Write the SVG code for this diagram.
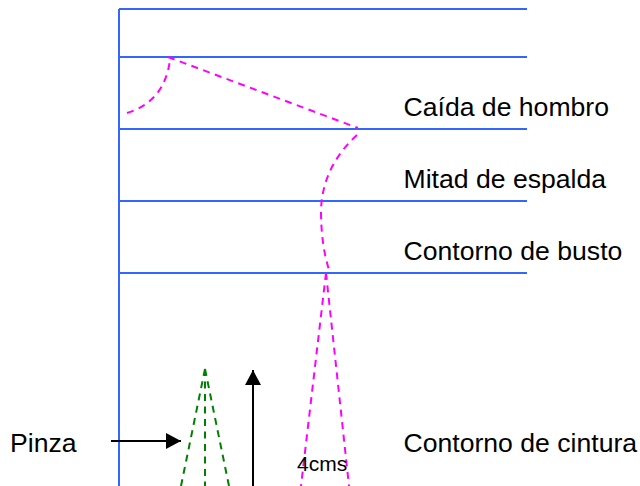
<svg xmlns="http://www.w3.org/2000/svg" width="640" height="486" viewBox="0 0 640 486">
<style>
.b{stroke:#3366ff;stroke-width:2;fill:none}
.m{stroke:#ff00ff;stroke-width:2;fill:none;stroke-dasharray:7 5.5}
.g{stroke:#008000;stroke-width:2;fill:none;stroke-dasharray:7 5.5}
.k{stroke:#000;stroke-width:2;fill:none}
text{font-family:"Liberation Sans",Arial,sans-serif;fill:#000}
.l{font-size:26.6px}
</style>
<defs><marker id="a" markerUnits="userSpaceOnUse" markerWidth="16" markerHeight="16" refX="15" refY="8" orient="auto"><path d="M0 0L15 8L0 16Z" fill="#000"/></marker></defs>
<rect width="640" height="486" fill="#fff"/>
<g id="grid">
<path class="b" d="M119 9V486"/>
<path class="b" d="M119 9H527M119 57H527M119 129H527M119 201H527M119 273H527"/>
</g>
<g id="connectors">
<path class="m" d="M127 113C150 106 166 90 170 60"/>
<path class="m" d="M168 57L358 128"/>
<path class="m" d="M357 135C335 155 322 180 321 210C321 235 324 255 330 273"/>
<path class="m" d="M326 273L301 486"/>
<path class="m" d="M326 273L349 486"/>
<path class="g" d="M205 369L181 486"/>
<path class="g" d="M205 369V486"/>
<path class="g" d="M205 369L229 486"/>
<path class="k" d="M111 441H181" marker-end="url(#a)"/>
<path class="k" d="M253 486V370" marker-end="url(#a)"/>
</g>
<g id="labels">
<text class="l" x="403.5" y="116">Caída de hombro</text>
<text class="l" x="403.5" y="188">Mitad de espalda</text>
<text class="l" x="403.5" y="260">Contorno de busto</text>
<text class="l" x="403.5" y="452">Contorno de cintura</text>
<text class="l" x="10" y="452">Pinza</text>
<text x="297" y="471" font-size="21">4cms</text>
</g>
</svg>
